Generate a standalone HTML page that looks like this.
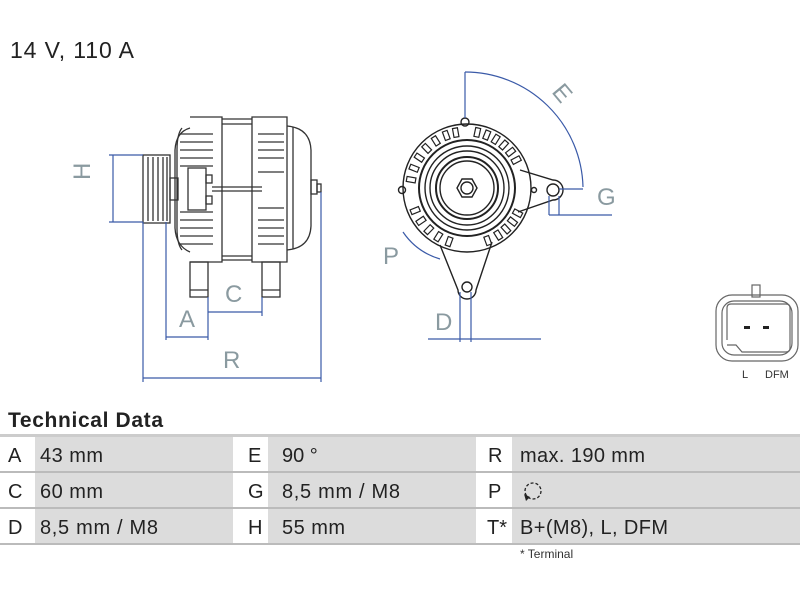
<!DOCTYPE html>
<html><head><meta charset="utf-8"><style>
body{margin:0;width:800px;height:600px;background:#fff;overflow:hidden;font-family:"Liberation Sans",sans-serif;}
svg{position:absolute;left:0;top:0}
</style></head><body>
<svg width="800" height="600" viewBox="0 0 800 600" xmlns="http://www.w3.org/2000/svg">
<text x="10" y="58" font-size="23" fill="#222" font-family="Liberation Sans" textLength="124">14 V, 110 A</text>

<!-- LEFT VIEW -->
<g fill="none" stroke="#333" stroke-width="1.3">
 <rect x="143" y="155" width="27" height="68"/>
 <line x1="148" y1="157" x2="148" y2="221"/><line x1="153" y1="157" x2="153" y2="221"/>
 <line x1="158" y1="157" x2="158" y2="221"/><line x1="163" y1="157" x2="163" y2="221"/>
 <line x1="167" y1="157" x2="167" y2="221"/>
 <rect x="170" y="178" width="8" height="22"/>
 <path d="M190 117 H222 V262 H190 M190 128 Q176 132 175 150 V228 Q176 246 190 252"/>
 <path d="M182 128 Q177 134 177 150 V228 Q177 244 182 250"/>
 <path d="M180 134 H213 M180 142 H213 M180 150 H213 M180 158 H213 M180 166 H213 M180 212 H213 M180 220 H213 M180 228 H213 M180 236 H213 M180 244 H213"/>
 <rect x="188" y="168" width="18" height="42"/>
 <rect x="206" y="175" width="6" height="8"/><rect x="206" y="196" width="6" height="8"/>
 <path d="M222 119 H252 M222 124 H252 M222 256 H252 M222 260 H252 M212 187 H262 M212 191 H262"/>
 <path d="M252 117 H287 V262 H252 Z"/>
 <path d="M258 134 H284 M258 142 H284 M258 150 H284 M258 158 H284 M258 172 H284 M258 208 H284 M258 220 H284 M258 228 H284 M258 236 H284 M258 244 H284"/>
 <path d="M287 126 Q310 128 311 150 V226 Q310 248 287 250"/>
 <line x1="293" y1="127" x2="293" y2="249"/>
 <rect x="311" y="180" width="6" height="14"/><rect x="317" y="184" width="4" height="8"/>
 <rect x="190" y="262" width="18" height="35"/><line x1="190" y1="290" x2="208" y2="290"/>
 <rect x="262" y="262" width="18" height="35"/><line x1="262" y1="290" x2="280" y2="290"/>
</g>
<g fill="none" stroke="#3a5aa8" stroke-width="1.2">
 <path d="M113 155 V222 M109 155 H143 M109 222 H143"/>
 <path d="M166 222 V340 M208 297 V340 M166 337 H208"/>
 <path d="M208 312 H262 M262 297 V316"/>
 <path d="M143 222 V382 M321 192 V382 M143 378 H321"/>
</g>
<g font-size="24" font-family="Liberation Sans" fill="#8a9aa0">
 <text x="100" y="190" transform="rotate(-90 90 190)">H</text>
 <text x="179" y="327">A</text>
 <text x="225" y="302">C</text>
 <text x="223" y="368">R</text>
 <text x="383" y="264">P</text>
 <text x="435" y="330">D</text>
 <text x="597" y="205">G</text>
 <text x="552" y="100" transform="rotate(50 560 95)">E</text>
</g>

<!-- RIGHT VIEW -->
<g fill="none" stroke="#222" stroke-width="1.4">
 <path d="M440 245 L458 290 A9 9 0 0 0 476 290 L492 242"/>
 <path d="M520 170 L553 180 A10 10 0 0 1 553 200 L518 212"/>
 <circle cx="467" cy="188" r="64"/>
 <circle cx="465" cy="122" r="4"/><circle cx="402" cy="190" r="3.5"/>
 <circle cx="553" cy="190" r="6"/><circle cx="534" cy="190" r="2.5"/>
 <circle cx="467" cy="287" r="5"/>
 <circle cx="467" cy="188" r="48" stroke-width="2"/>
 <circle cx="467" cy="188" r="42"/>
 <circle cx="467" cy="188" r="37"/>
 <circle cx="467" cy="188" r="31" stroke-width="2"/>
 <circle cx="467" cy="188" r="27"/>
 <polygon points="477,188 472,197 462,197 457,188 462,179 472,179"/>
 <circle cx="467" cy="188" r="6"/>
 <g stroke-width="1.2">
  <rect x="463" y="127" width="5" height="9" transform="rotate(-80 467 188)"/>
  <rect x="463" y="127" width="5" height="9" transform="rotate(-68 467 188)"/>
  <rect x="463" y="127" width="5" height="9" transform="rotate(-56 467 188)"/>
  <rect x="463" y="127" width="5" height="9" transform="rotate(-44 467 188)"/>
  <rect x="463" y="127" width="5" height="9" transform="rotate(-32 467 188)"/>
  <rect x="463" y="127" width="5" height="9" transform="rotate(-20 467 188)"/>
  <rect x="463" y="127" width="5" height="9" transform="rotate(-10 467 188)"/>
  <rect x="463" y="127" width="5" height="9" transform="rotate(12 467 188)"/>
  <rect x="463" y="127" width="5" height="9" transform="rotate(22 467 188)"/>
  <rect x="463" y="127" width="5" height="9" transform="rotate(32 467 188)"/>
  <rect x="463" y="127" width="5" height="9" transform="rotate(42 467 188)"/>
  <rect x="463" y="127" width="5" height="9" transform="rotate(52 467 188)"/>
  <rect x="463" y="127" width="5" height="9" transform="rotate(62 467 188)"/>
  <rect x="463" y="127" width="5" height="9" transform="rotate(118 467 188)"/>
  <rect x="463" y="127" width="5" height="9" transform="rotate(128 467 188)"/>
  <rect x="463" y="127" width="5" height="9" transform="rotate(138 467 188)"/>
  <rect x="463" y="127" width="5" height="9" transform="rotate(148 467 188)"/>
  <rect x="463" y="127" width="5" height="9" transform="rotate(160 467 188)"/>
  <rect x="463" y="127" width="5" height="9" transform="rotate(200 467 188)"/>
  <rect x="463" y="127" width="5" height="9" transform="rotate(212 467 188)"/>
  <rect x="463" y="127" width="5" height="9" transform="rotate(224 467 188)"/>
  <rect x="463" y="127" width="5" height="9" transform="rotate(236 467 188)"/>
  <rect x="463" y="127" width="5" height="9" transform="rotate(248 467 188)"/>
 </g>
</g>
<g fill="none" stroke="#3a5aa8" stroke-width="1.2">
 <path d="M465 118 V72"/>
 <path d="M465 72 A118 118 0 0 1 583 187"/>
 <path d="M559 189 H583"/>
 <path d="M549 196 V215 M559 196 V215 M549 215 H612"/>
 <path d="M403 232 A68 68 0 0 0 440 259"/>
 <path d="M460 292 V342 M471 292 V342 M428 339 H541"/>
</g>

<!-- connector -->
<g fill="none" stroke="#666" stroke-width="1.2">
 <rect x="752" y="285" width="8" height="12"/>
 <rect x="716" y="295" width="82" height="66" rx="16"/>
 <rect x="722" y="301" width="70" height="54" rx="12"/>
 <path d="M727 340 V308 Q727 304 731 304 H786 Q790 304 790 308 V348 Q790 352 786 352 H742 L736 345 H727"/>
</g>
<rect x="744" y="326" width="6" height="3" fill="#222"/><rect x="763" y="326" width="6" height="3" fill="#222"/>
<text x="742" y="378" font-size="11" fill="#333">L</text>
<text x="765" y="378" font-size="11" fill="#333">DFM</text>

<!-- TABLE -->
<text x="8" y="427" font-size="21" font-weight="bold" fill="#222" textLength="155">Technical Data</text>
<rect x="0" y="434" width="800" height="3" fill="#ccc"/>
<g fill="#dcdcdc">
 <rect x="35" y="437" width="198" height="34"/><rect x="268" y="437" width="208" height="34"/><rect x="512" y="437" width="288" height="34"/>
 <rect x="35" y="473" width="198" height="34"/><rect x="268" y="473" width="208" height="34"/><rect x="512" y="473" width="288" height="34"/>
 <rect x="35" y="509" width="198" height="34"/><rect x="268" y="509" width="208" height="34"/><rect x="512" y="509" width="288" height="34"/>
</g>
<rect x="0" y="471" width="800" height="2" fill="#bbb"/>
<rect x="0" y="507" width="800" height="2" fill="#bbb"/>
<rect x="0" y="543" width="800" height="2" fill="#bbb"/>
<g font-size="20" fill="#222">
 <text x="8" y="462">A</text><text x="40" y="462" textLength="63">43 mm</text>
 <text x="248" y="462">E</text><text x="282" y="462">90 °</text>
 <text x="488" y="462">R</text><text x="520" y="462" textLength="125">max. 190 mm</text>
 <text x="8" y="498">C</text><text x="40" y="498" textLength="63">60 mm</text>
 <text x="248" y="498">G</text><text x="282" y="498" textLength="118">8,5 mm / M8</text>
 <text x="488" y="498">P</text>
 <text x="8" y="534">D</text><text x="40" y="534" textLength="118">8,5 mm / M8</text>
 <text x="248" y="534">H</text><text x="282" y="534" textLength="63">55 mm</text>
 <text x="487" y="534">T*</text><text x="520" y="534" textLength="148">B+(M8), L, DFM</text>
</g>
<circle cx="533" cy="491" r="8" fill="none" stroke="#222" stroke-width="1.3" stroke-dasharray="3 2"/>
<path d="M524 494 L530 497 L526 501 Z" fill="#222"/>
<text x="520" y="558" font-size="12" fill="#333">* Terminal</text>
</svg>
</body></html>
